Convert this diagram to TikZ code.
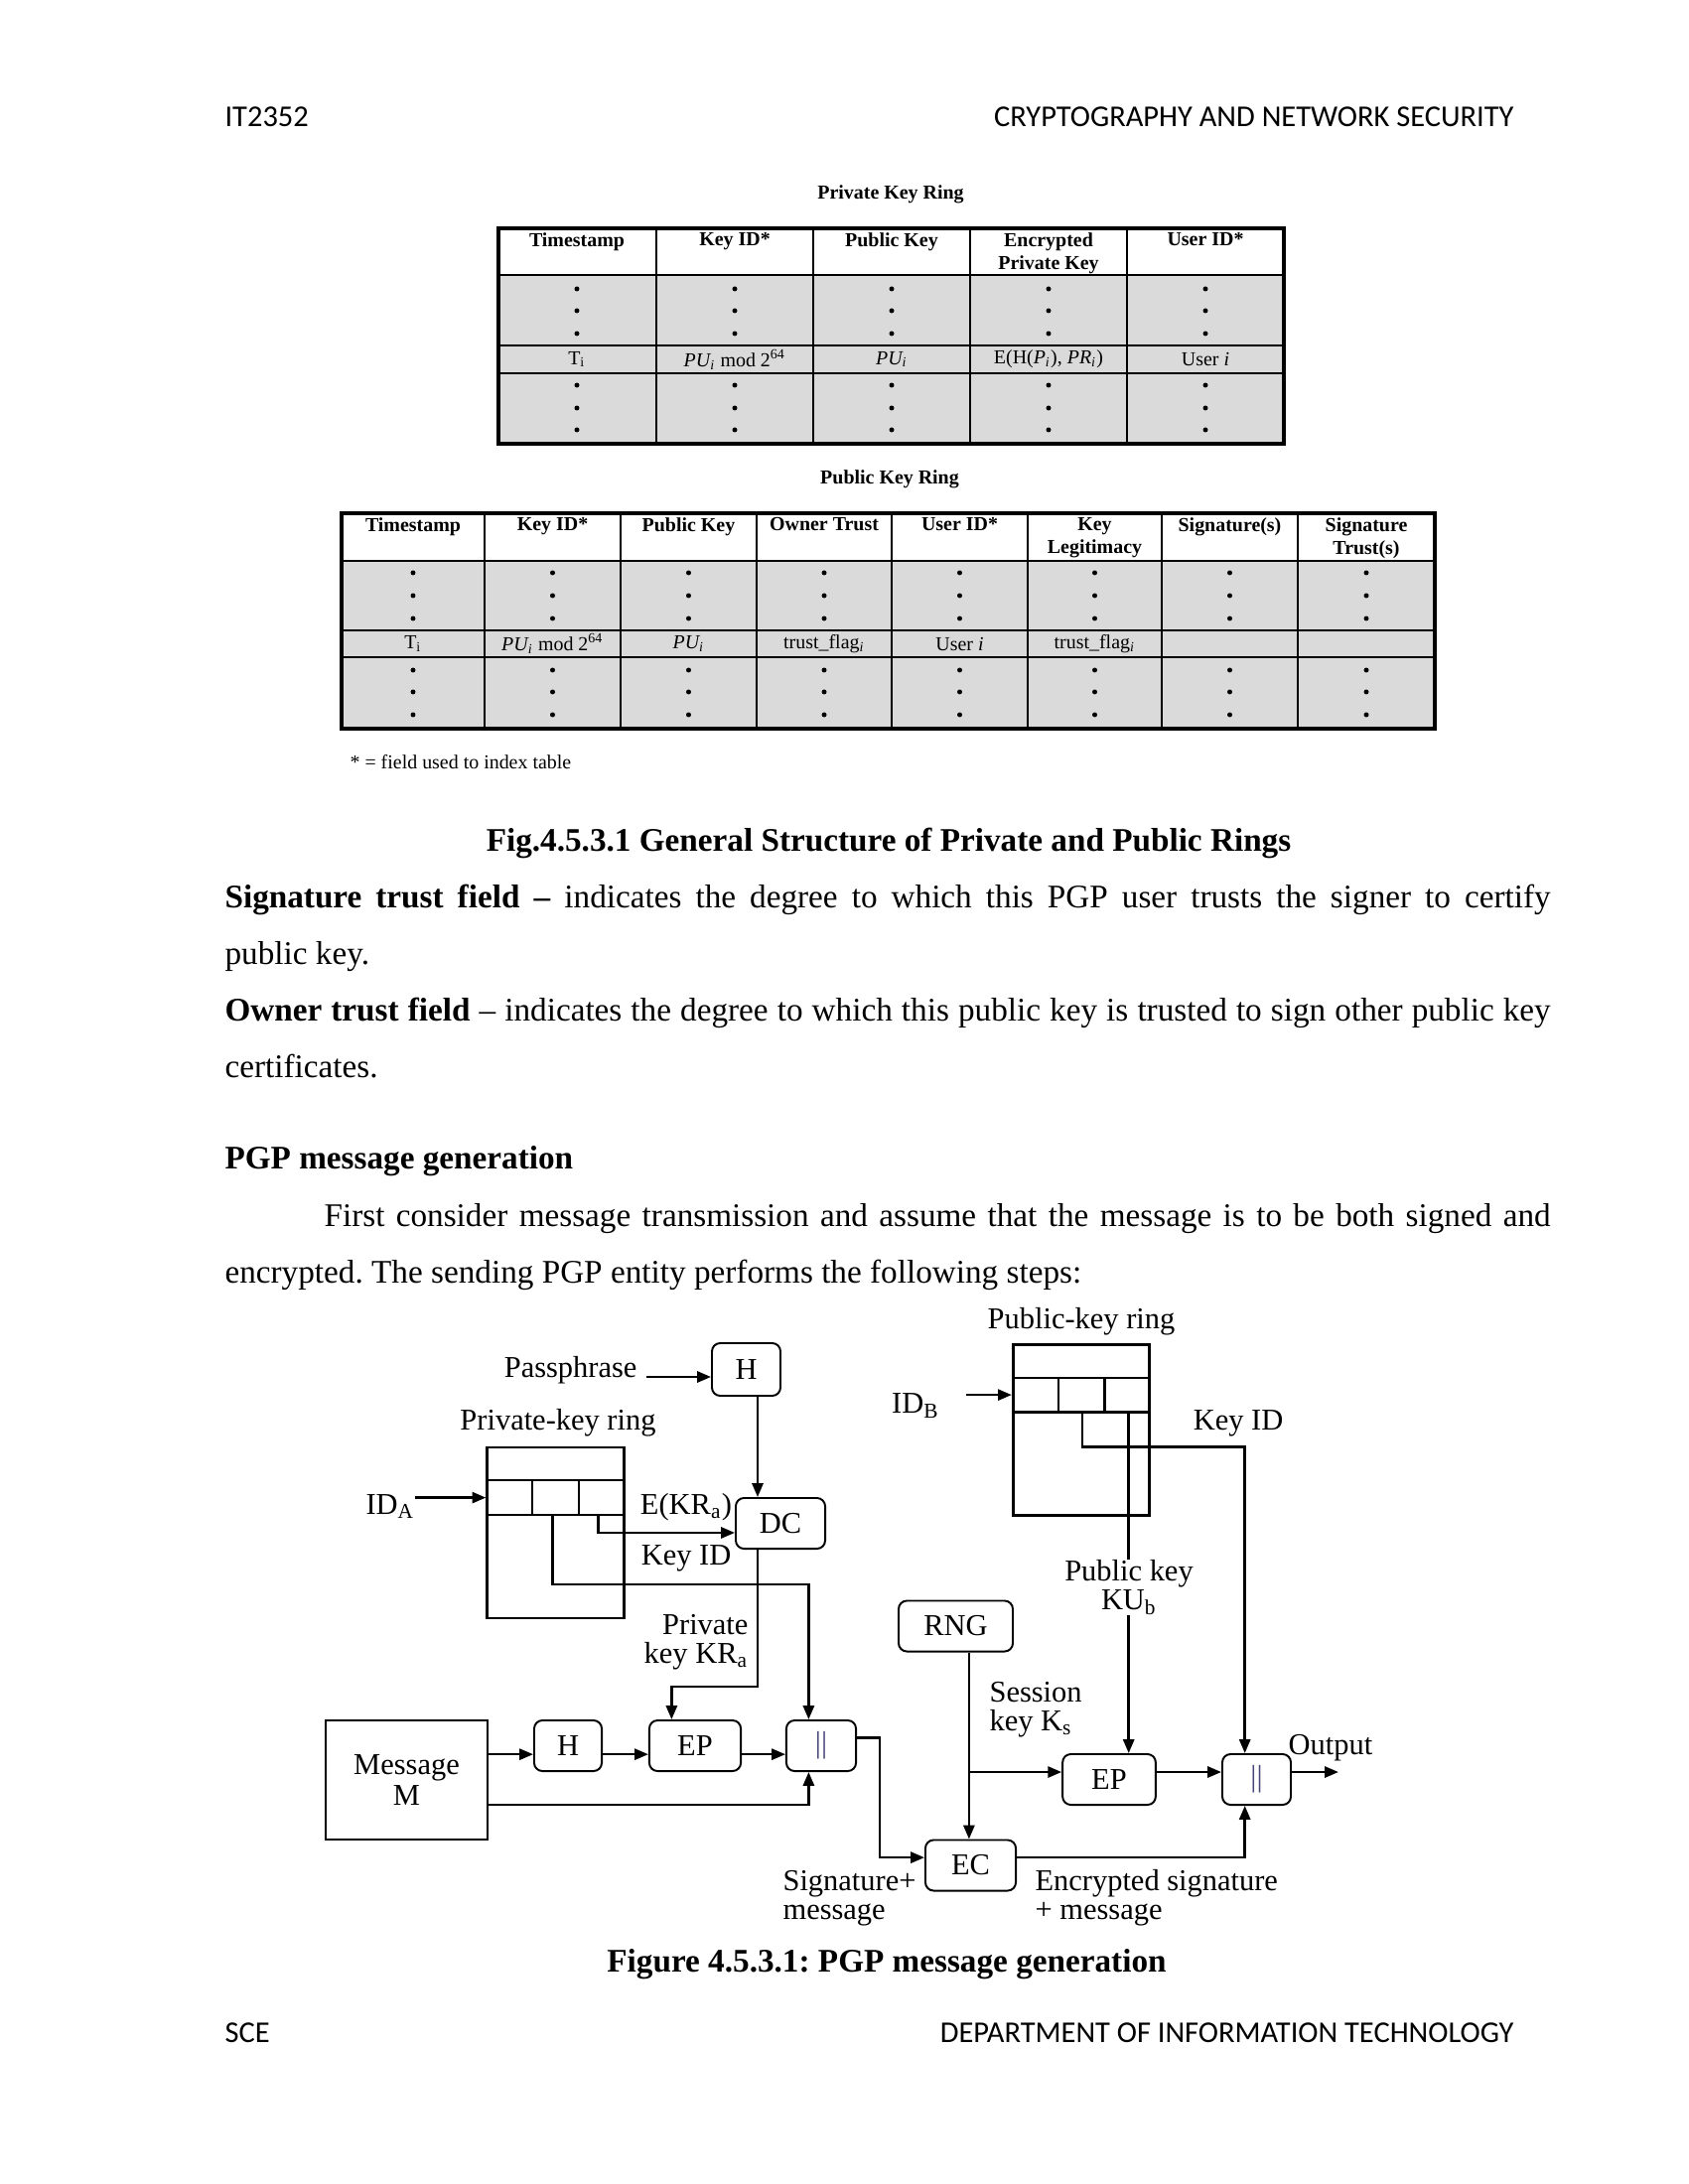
\documentclass[tikz,border=0pt]{standalone}
\usepackage{fontspec}
\setmainfont{Liberation Serif}
\newfontfamily\hdrfont{Carlito}
\usetikzlibrary{arrows.meta, calc}
\definecolor{ringgray}{RGB}{218,218,218}
\definecolor{barblue}{RGB}{70,70,120}
\frenchspacing

\newcommand\bodyfont{\fontsize{12}{14}\selectfont}
\newcommand\tabfont{\fontsize{7.2}{8.3}\selectfont}
\newcommand\figfont{\fontsize{11}{10.5}\selectfont}

\tikzset{
	tabline/.style={line width=0.8pt},
	tabhead/.style={anchor=north, align=center, inner sep=0pt, font=\tabfont\bfseries},
	tabcell/.style={inner sep=0pt, font=\tabfont},
	blk/.style={draw, line width=0.7pt, rounded corners=3pt, minimum height=0.648cm, inner sep=0pt, font=\figfont},
	ring/.style={draw, line width=1pt, minimum width=1.746cm, minimum height=2.184cm, inner sep=0pt},
	lbl/.style={inner sep=0pt, font=\figfont},
	flow/.style={line width=0.9pt, -{Triangle[length=5pt,width=4pt]}},
	wire/.style={line width=0.9pt},
	txt/.style={anchor=base west, inner sep=0pt, font=\bodyfont}
}

\begin{document}
\begin{tikzpicture}[x=0.0127cm, y=-0.0127cm]
	\path[use as bounding box, fill=white] (0,0) rectangle (1700,2200);

	% header and footer
	\node[anchor=base west, inner sep=0pt, font=\hdrfont\fontsize{11}{13}\selectfont] (hdl) at (226,128) {IT2352};
	\node[anchor=base east, inner sep=0pt, font=\hdrfont\fontsize{11}{13}\selectfont] (hdr) at (1525,128) {CRYPTOGRAPHY AND NETWORK SECURITY};
	\node[anchor=base west, inner sep=0pt, font=\hdrfont\fontsize{11}{13}\selectfont] (ftl) at (226,2057) {SCE};
	\node[anchor=base east, inner sep=0pt, font=\hdrfont\fontsize{11}{13}\selectfont] (ftr) at (1525,2057) {DEPARTMENT OF INFORMATION TECHNOLOGY};

	% private key ring table
	\node[inner sep=0pt, font=\tabfont\bfseries] (privtitle) at (897,196) {Private Key Ring};
	\fill[ringgray] (502,277) rectangle (1293,447);
	\draw[line width=1.2pt] (502,230) rectangle (1293,447);
	\foreach \x in {661,819,977,1135} \draw[tabline] (\x,230) -- (\x,447);
	\foreach \y in {277,348,376} \draw[tabline] (502,\y) -- (1293,\y);
	\foreach \x/\txt [count=\i] in {581/Timestamp, 740/Key ID*, 898/Public Key, 1056/{Encrypted\\Private Key}, 1214/User ID*}
		\node[tabhead] (privh\i) at (\x,234) {\txt};
	\foreach \x/\txt [count=\i] in {581/T\textsubscript{i}, 740/{\textit{PU\textsubscript{i}} mod 2\textsuperscript{64}}, 898/\textit{PU\textsubscript{i}}, 1056/{E(H(\textit{P\textsubscript{i}}), \textit{PR\textsubscript{i}})}, 1214/User \textit{i}}
		\node[tabcell] (privc\i) at (\x,362) {\txt};
	\foreach \x in {581,740,898,1056,1214}
		\foreach \y in {291,313,336,388,411,433}
			\fill (\x,\y) circle (0.9pt);

	% public key ring table
	\node[inner sep=0pt, font=\tabfont\bfseries] (pubtitle) at (896,483) {Public Key Ring};
	\fill[ringgray] (344,565) rectangle (1445,734);
	\draw[line width=1.2pt] (344,517) rectangle (1445,734);
	\foreach \x in {488,625,762,898,1035,1170,1307} \draw[tabline] (\x,517) -- (\x,734);
	\foreach \y in {565,635,662} \draw[tabline] (344,\y) -- (1445,\y);
	\foreach \x/\txt [count=\i] in {416/Timestamp, 556.5/Key ID*, 693.5/Public Key, 830/Owner Trust, 966.5/User ID*, 1102.5/{Key\\Legitimacy}, 1238.5/Signature(s), 1376/{Signature\\Trust(s)}}
		\node[tabhead] (pubh\i) at (\x,521) {\txt};
	\foreach \x/\txt [count=\i] in {416/T\textsubscript{i}, 556.5/{\textit{PU\textsubscript{i}} mod 2\textsuperscript{64}}, 693.5/\textit{PU\textsubscript{i}}, 830/trust\_flag\textsubscript{\textit{i}}, 966.5/User \textit{i}, 1102.5/trust\_flag\textsubscript{\textit{i}}}
		\node[tabcell] (pubc\i) at (\x,648.5) {\txt};
	\foreach \x in {416,556.5,693.5,830,966.5,1102.5,1238.5,1376}
		\foreach \y in {577,600,623,675,697,720}
			\fill (\x,\y) circle (0.9pt);
	\node[anchor=base west, inner sep=0pt, font=\tabfont] (note) at (352,775) {* = field used to index table};

	% text of the page
	\node[anchor=base, inner sep=0pt, font=\bodyfont\bfseries] (cap1) at (895,857) {Fig.4.5.3.1 General Structure of Private and Public Rings};
	\node[txt] (para1a) at (226,914) {\makebox[16.95cm][s]{\textbf{Signature trust field --} indicates the degree to which this PGP user trusts the signer to certify}};
	\node[txt] (para1b) at (226,971) {public key.};
	\node[txt] (para2a) at (226,1028) {\makebox[16.95cm][s]{\textbf{Owner trust field} -- indicates the degree to which this public key is trusted to sign other public key}};
	\node[txt] (para2b) at (226,1085) {certificates.};
	\node[txt, font=\bodyfont\bfseries] (sect) at (226,1177) {PGP message generation};
	\node[txt] (para3a) at (326,1235) {\makebox[15.68cm][s]{First consider message transmission and assume that the message is to be both signed and}};
	\node[txt] (para3b) at (226,1292) {encrypted. The sending PGP entity performs the following steps:};
	\node[anchor=base, inner sep=0pt, font=\bodyfont\bfseries] (cap2) at (893,1986) {Figure 4.5.3.1: PGP message generation};

	% the two key rings
	\node[ring] (prk) at (559.5,1544) {};
	\node[ring] (pubr) at (1089,1440.5) {};
	\foreach \r in {prk,pubr}{
		\coordinate (\r-a) at ($(\r.north west)!0.198!(\r.south west)$);
		\coordinate (\r-b) at ($(\r.north east)!0.198!(\r.south east)$);
		\coordinate (\r-c) at ($(\r.north west)!0.397!(\r.south west)$);
		\coordinate (\r-d) at ($(\r.north east)!0.397!(\r.south east)$);
		\draw[line width=0.8pt] (\r-a) -- (\r-b) (\r-c) -- (\r-d)
			($(\r-a)!1/3!(\r-b)$) -- ($(\r-c)!1/3!(\r-d)$)
			($(\r-a)!2/3!(\r-b)$) -- ($(\r-c)!2/3!(\r-d)$);
	}
	\coordinate (prkrow) at ($(prk-a)!0.5!(prk-c)$);
	\coordinate (pubrow) at ($(pubr-a)!0.5!(pubr-c)$);
	\coordinate (kid1) at ($(prk-c)!0.48!(prk-d)$);
	\coordinate (ekr) at ($(prk-c)!0.807!(prk-d)$);
	\coordinate (kid2) at ($(pubr-c)!0.507!(pubr-d)$);
	\coordinate (pk) at ($(pubr-c)!0.84!(pubr-d)$);

	% signing side
	\node[lbl] (prklbl) at (562,1433) {Private-key ring};
	\node[lbl, anchor=base east] (pass) at (642,1387) {Passphrase};
	\node[blk, minimum width=0.876cm, minimum height=0.673cm] (hpass) at (751.5,1379.5) {H};
	\node[blk, minimum width=1.143cm] (dc) at (786,1534.5) {DC};
	\node[lbl, anchor=base east] (ida) at (418,1525) {ID\textsubscript{A}};
	\node[lbl] (ekrlbl) at (691,1518) {E(KR\textsubscript{a})};
	\node[lbl] (kid1lbl) at (691,1570) {Key ID};
	\node[lbl, anchor=east, align=right] (prvlbl) at (754,1654) {Private\\key KR\textsubscript{a}};
	\node[draw, line width=1pt, minimum width=2.07cm, minimum height=1.524cm, align=center, font=\figfont, inner sep=0pt] (msg) at (409.5,1793) {Message\\[1pt]M};
	\node[blk, minimum width=0.864cm] (hmsg) at (572,1758.5) {H};
	\node[blk, minimum width=1.17cm] (eps) at (700,1758.5) {EP};
	\node[blk, minimum width=0.89cm, text=barblue] (cat1) at (827,1758.5) {||};

	\draw[flow] (prkrow -| ida.east) -- (prkrow);
	\draw[flow] ([xshift=0.12cm]pass.base east) -- (pass.base -| hpass.west);
	\draw[flow] ([xshift=0.146cm]hpass.south) -- ([xshift=0.146cm]hpass.south |- dc.north);
	\draw[flow] (ekr) |- ([yshift=-0.12cm]dc.west);
	\draw[flow] (kid1) -- ++(0,70) -| ([xshift=-0.16cm]cat1.north);
	\draw[flow] ([xshift=-0.29cm]dc.south) -- ++(0,138) -| ([xshift=-0.3cm]eps.north);
	\coordinate (mrow) at ([yshift=-0.11cm]hmsg.west);
	\draw[flow] (mrow -| msg.east) -- (mrow);
	\draw[flow] (mrow -| hmsg.east) -- (mrow -| eps.west);
	\draw[flow] (mrow -| eps.east) -- (mrow -| cat1.west);
	\draw[flow] ([yshift=-0.32cm]msg.east) -| ([xshift=-0.16cm]cat1.south);

	% encryption side
	\node[lbl] (pubrlbl) at (1089,1331) {Public-key ring};
	\node[lbl] (idb) at (922,1416) {ID\textsubscript{B}};
	\node[lbl] (kid2lbl) at (1247,1434) {Key ID};
	\node[lbl, align=center] (pklbl) at (1137,1599) {Public key\\KU\textsubscript{b}};
	\node[blk, minimum width=1.46cm] (rng) at (962.5,1638) {RNG};
	\node[lbl, anchor=west, align=left] (seslbl) at (996,1722) {Session\\key K\textsubscript{s}};
	\node[blk, minimum width=1.19cm] (epk) at (1117,1792.5) {EP};
	\node[blk, minimum width=0.876cm, text=barblue] (cat2) at (1265.5,1792.5) {||};
	\node[blk, minimum width=1.156cm] (ec) at (977.5,1879) {EC};
	\node[lbl] (outlbl) at (1340,1761) {Output};
	\node[lbl, anchor=west, align=left] (siglbl) at (788,1912) {Signature+\\message};
	\node[lbl, anchor=west, align=left] (enclbl) at (1042,1912) {Encrypted signature\\+ message};

	\draw[flow] ($(pubrow -| idb.east)+(27,0)$) -- (pubrow);
	\draw[wire] (pk) -- (pk |- pklbl.north);
	\draw[flow] (pk |- pklbl.south) -- (pk |- epk.north);
	\draw[flow] (kid2) -- ++(0,35) -| ([xshift=-0.15cm]cat2.north);
	\draw[flow] ([yshift=0.1cm]cat1.east) -- ++(23,0) |- ([yshift=0.1cm]ec.west);
	\coordinate (rdown) at ([xshift=0.17cm]rng.south);
	\draw[flow] (rdown) -- (rdown |- ec.north);
	\coordinate (krow) at ([yshift=0.095cm]epk.west);
	\draw[flow] (krow -| rdown) -- (krow);
	\draw[flow] (krow -| epk.east) -- (krow -| cat2.west);
	\draw[flow] (krow -| cat2.east) -- ++(47,0) coordinate (outp);
	\draw[flow] ([yshift=0.1cm]ec.east) -| ([xshift=-0.15cm]cat2.south);
\end{tikzpicture}
\end{document}
